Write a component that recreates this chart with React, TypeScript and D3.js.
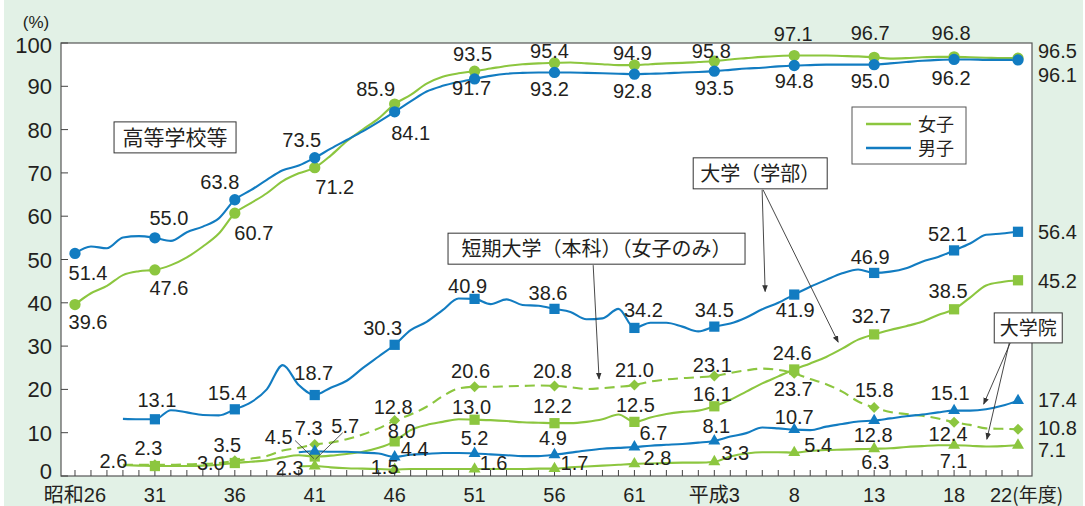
import React from 'react';
import * as d3 from 'd3';

// ---------- DATA ----------
const hsStart = 1951;
const hsFemale = [39.6, 42.2, 43.9, 46.4, 47.3, 47.6, 48.7, 50.5, 53.0, 56.0,
  60.7, 63.0, 65.3, 68.1, 69.9, 71.2, 74.0, 77.3, 80.0, 82.6,
  85.9, 88.0, 90.6, 92.2, 93.0, 93.5, 94.1, 94.7, 95.1, 95.3,
  95.4, 95.5, 95.3, 95.1, 94.9, 94.9, 95.1, 95.3, 95.4, 95.6,
  95.8, 96.2, 96.5, 96.8, 97.0, 97.1, 97.1, 97.1, 97.0, 96.9,
  96.7, 96.4, 96.5, 96.7, 96.8, 96.8, 96.7, 96.6, 96.5, 96.5];
const hsMale = [51.4, 53.0, 52.6, 55.1, 55.4, 55.0, 54.3, 56.3, 57.6, 59.5,
  63.8, 66.0, 68.4, 70.6, 71.7, 73.5, 75.6, 77.6, 79.6, 81.8,
  84.1, 86.5, 88.8, 90.1, 91.0, 91.7, 92.4, 92.9, 93.1, 93.2,
  93.2, 93.2, 93.1, 93.0, 92.9, 92.8, 92.9, 93.0, 93.2, 93.3,
  93.5, 93.8, 94.1, 94.3, 94.6, 94.8, 94.9, 95.0, 95.0, 95.0,
  95.0, 95.3, 95.6, 95.9, 96.1, 96.2, 96.2, 96.1, 96.1, 96.1];

const univStart = 1954;
const univMale = [13.2, 13.1, 13.1, 15.2, 14.7, 14.1, 14.0,
  15.4, 17.0, 20.0, 25.6, 21.0, 18.7, 20.4, 22.0, 24.9, 27.6,
  30.3, 33.7, 35.6, 38.3, 41.0, 40.9, 39.7, 40.8, 39.5, 39.3,
  38.6, 37.9, 36.2, 36.4, 38.6, 34.2, 35.4, 35.4, 34.5, 33.4,
  34.5, 35.2, 36.6, 38.5, 40.0, 41.9, 43.7, 45.3, 46.8, 47.7,
  46.9, 47.2, 48.0, 49.5, 50.6, 52.1, 53.7, 55.7, 56.0, 56.4];
const univFemale = [2.5, 2.4, 2.3, 2.3, 2.3, 2.4, 2.6,
  3.0, 3.3, 3.6, 4.3, 4.8, 4.5, 4.7, 5.1, 5.6, 6.5,
  8.0, 10.6, 11.8, 12.5, 13.1, 13.0, 12.9, 12.7, 12.4, 12.3,
  12.2, 12.2, 12.5, 13.1, 14.2, 12.5, 13.5, 14.3, 14.8, 15.1,
  16.1, 17.6, 19.5, 21.4, 23.0, 24.6, 26.0, 27.5, 29.4, 31.5,
  32.7, 33.7, 34.6, 35.6, 37.2, 38.5, 41.2, 44.0, 44.8, 45.2];
const juniorCollege = [2.6, 2.6, 2.6, 2.6, 2.7, 2.8, 3.0,
  3.5, 4.0, 4.6, 5.9, 6.5, 7.3, 7.7, 8.5, 9.6, 11.0,
  12.8, 14.2, 16.0, 18.4, 20.2, 20.6, 20.6, 20.7, 20.8, 20.9,
  20.8, 20.5, 20.1, 20.3, 20.6, 21.0, 21.8, 22.3, 22.6, 22.8,
  23.1, 23.8, 24.4, 24.8, 24.5, 23.7, 22.4, 21.2, 19.5, 17.2,
  15.8, 14.8, 14.3, 13.9, 13.3, 12.4, 11.8, 11.0, 10.9, 10.8];

const gradStart = 1965;
const gradMale = [5.5, 5.7, 5.6, 5.6, 5.4, 5.2,
  4.4, 4.9, 5.1, 5.3, 5.3, 5.2, 5.0, 4.8, 4.6, 4.6,
  4.9, 5.4, 5.9, 6.3, 6.5, 6.7, 7.0, 7.2, 7.4, 7.7,
  8.1, 9.1, 9.9, 11.2, 11.0, 10.7, 10.6, 11.4, 12.0, 12.6,
  12.8, 13.3, 13.8, 14.2, 14.7, 15.1, 15.1, 15.4, 16.2, 17.4];
const gradFemale = [2.2, 2.3, 2.0, 1.8, 1.7, 1.6,
  1.5, 1.6, 1.6, 1.6, 1.6, 1.6, 1.6, 1.6, 1.6, 1.7,
  1.7, 2.0, 2.2, 2.4, 2.6, 2.8, 2.9, 3.0, 3.1, 3.1,
  3.3, 4.5, 5.2, 5.5, 5.5, 5.4, 5.8, 6.0, 6.1, 6.2,
  6.3, 6.4, 6.7, 6.9, 7.1, 7.1, 7.0, 6.8, 6.9, 7.1];

const markerYears = [1951, 1956, 1961, 1966, 1971, 1976, 1981, 1986, 1991, 1996, 2001, 2006, 2010];
const xTickYears = [1951, 1956, 1961, 1966, 1971, 1976, 1981, 1986, 1991, 1996, 2001, 2006, 2010];
const xTickLabels = ['昭和26', '31', '36', '41', '46', '51', '56', '61', '平成3', '8', '13', '18', '22'];
const yTickValues = [0, 10, 20, 30, 40, 50, 60, 70, 80, 90, 100];

// ---------- STYLE / PLACEMENT ----------
const GREEN = '#8cc63f';
const BLUE = '#127cc1';
const TEXT = '#231f20';
const BG = '#e2f1e6';
const FONT = "'Liberation Sans', Arial, 'Noto Sans CJK JP', sans-serif";
const JFONT = "'Noto Sans CJK JP', 'Liberation Sans', sans-serif";

type Off = { [year: number]: [number, number, string?] };

const series = [
  { key: 'hsF', values: hsFemale, start: hsStart, color: GREEN, dash: null, shape: 'circle' },
  { key: 'hsM', values: hsMale, start: hsStart, color: BLUE, dash: null, shape: 'circle' },
  { key: 'jc', values: juniorCollege, start: univStart, color: GREEN, dash: '10,6', shape: 'diamond' },
  { key: 'uF', values: univFemale, start: univStart, color: GREEN, dash: null, shape: 'square' },
  { key: 'uM', values: univMale, start: univStart, color: BLUE, dash: null, shape: 'square' },
  { key: 'gF', values: gradFemale, start: gradStart, color: GREEN, dash: null, shape: 'triangle' },
  { key: 'gM', values: gradMale, start: gradStart, color: BLUE, dash: null, shape: 'triangle' },
];

const labelOffsets: { [k: string]: Off } = {
  hsF: { 1951: [13, 24], 1956: [14, 25], 1961: [19, 27], 1966: [20, 26], 1971: [-19, -8], 1976: [-2, -10],
    1981: [-5, -5], 1986: [-2, -5], 1991: [-3, -3], 1996: [-1, -15], 2001: [-4, -17], 2006: [-3, -17], 2010: [20, 0, 'start'] },
  hsM: { 1951: [13, 27], 1956: [14, -13], 1961: [-15, -11], 1966: [-13, -11], 1971: [16, 28], 1976: [-3, 16],
    1981: [-5, 24], 1986: [-2, 24], 1991: [0, 24], 1996: [0, 22.5], 2001: [-4, 23], 2006: [-3, 25.5], 2010: [20, 22, 'start'] },
  uM: { 1956: [2, -12.6], 1961: [-7.5, -9], 1966: [-1, -15], 1971: [-12, -10], 1976: [-7, -6], 1981: [-6.5, -9],
    1986: [9, -11], 1991: [0, -10], 1996: [1, 22], 2001: [-4, -9], 2006: [-6.5, -9], 2010: [20, 7, 'start'] },
  uF: { 1956: [-6.5, -11], 1961: [-24, 7], 1966: [-36, -13], 1971: [7, -3], 1976: [-3, -6], 1981: [-2, -10],
    1986: [1, -10], 1991: [-2, -5], 1996: [-2, -9.5], 2001: [-3, -11], 2006: [-6, -11], 2010: [20, 8, 'start'] },
  jc: { 1956: [-41.5, 3.6], 1961: [-7.5, -9], 1966: [-6, -9], 1971: [-1.5, -7], 1976: [-4, -8.5], 1981: [-2, -8],
    1986: [0, -8.5], 1991: [-2, -4], 1996: [-1, 23], 2001: [0, -11], 2006: [-6, 19], 2010: [20, 6, 'start'] },
  gM: { 1966: [30.5, -18], 1971: [20, -0.5], 1976: [0, -8.5], 1981: [-1.5, -10], 1986: [19, -7], 1991: [2, -7.5],
    1996: [0, -6], 2001: [-1, 21], 2006: [-4, -10.5], 2010: [20, 6, 'start'] },
  gF: { 1966: [-25, 9], 1971: [-10, 4], 1976: [19, 1], 1981: [20, 1], 1986: [23, 1], 1991: [21, -1.5],
    1996: [24, -1], 2001: [1, 20], 2006: [-0.5, 23], 2010: [20, 11.4, 'start'] },
};

// annotation boxes (centre in data coordinates, size in px)
const boxes = [
  { text: '高等学校等', year: 1957.26, value: 78.2, w: 122, h: 31, size: 21 },
  { text: '大学（学部）', year: 1993.87, value: 69.9, w: 134, h: 31, size: 20 },
  { text: '短期大学（本科）（女子のみ）', year: 1983.63, value: 52.5, w: 297, h: 31, size: 20 },
  { text: '大学院', year: 2010.64, value: 34.2, w: 68, h: 30, size: 19 },
];
// arrows in data coordinates [year, value] -> [year, value]
const arrows = [
  [[1983.42, 48.7], [1983.79, 22.4]],
  [[1993.99, 66.1], [1994.18, 42.6]],
  [[1994.05, 66.1], [1998.75, 30.9]],
  [[2009.51, 30.7], [2007.85, 16.6]],
  [[2009.45, 30.7], [2008.05, 8.5]],
];
const leaders = [
  [[1964.77, 8.2], [1965.95, 4.0]],
  [[1967.75, 10.0], [1966.05, 3.9]],
];

export default function App() {
  const x = d3.scaleLinear().domain([1950.125, 2010.875]).range([61, 1032]);
  const y = d3.scaleLinear().domain([0, 100]).range([476, 43]);
  const line = d3.line<[number, number]>().x(d => x(d[0])).y(d => y(d[1])).curve(d3.curveMonotoneX);

  const circle = d3.symbol(d3.symbolCircle, 100)() as string;
  const square = d3.symbol(d3.symbolSquare, 105)() as string;
  const diamond = d3.symbol(d3.symbolSquare, 60)() as string;
  const triangle = d3.symbol(d3.symbolTriangle, 62)() as string;

  const pts = (s: typeof series[0]) => s.values.map((v, i) => [s.start + i, v] as [number, number]);

  const yearRange = d3.range(1951, 2011);
  const yLabelShift = (v: number) => (v === 0 ? 3 : v === 100 ? 10 : 8);

  return (
    <svg width={1085} height={506} style={{ position: 'absolute', left: 0, top: 0, fontFamily: FONT }}>
      <defs>
        <marker id="ah" viewBox="0 0 10 10" refX="9" refY="5" markerWidth="7" markerHeight="7" orient="auto-start-reverse" markerUnits="userSpaceOnUse">
          <path d="M0,1 L10,5 L0,9 Z" fill="#333" />
        </marker>
      </defs>
      <rect x={0} y={0} width={1085} height={506} fill="#fff" />
      <rect x={4} y={0} width={1079} height={506} fill={BG} />
      <rect x={x(1950.125)} y={y(100)} width={x(2010.875) - x(1950.125)} height={y(0) - y(100)} fill="#fff" stroke="#555" strokeWidth={1.2} />

      {/* y ticks */}
      {yTickValues.map(v => (
        <g key={'y' + v}>
          <line x1={x(1950.125)} x2={x(1950.125) + 7} y1={y(v)} y2={y(v)} stroke="#444" strokeWidth={1} />
          <text x={52} y={y(v) + yLabelShift(v)} textAnchor="end" fontSize={22} fill={TEXT}>{v}</text>
        </g>
      ))}
      <text x={36} y={28} textAnchor="middle" fontSize={17} fill={TEXT}>(%)</text>

      {/* x minor ticks */}
      {yearRange.map(yr => (
        <line key={'t' + yr} x1={x(yr)} x2={x(yr)} y1={y(0)} y2={y(0) - 6} stroke="#444" strokeWidth={1} />
      ))}
      {xTickYears.map((yr, i) => (
        i === xTickYears.length - 1 ? (
          <text key={'xl' + yr} x={x(yr) - 28} y={502} textAnchor="start" fontSize={20} fill={TEXT}>
            {xTickLabels[i]}<tspan fontFamily={JFONT} fontSize={19}>(年度)</tspan>
          </text>
        ) : (
          <text key={'xl' + yr} x={x(yr)} y={502} textAnchor="middle" fontSize={20} fill={TEXT}>{xTickLabels[i]}</text>
        )
      ))}

      {/* lines */}
      {series.map(s => (
        <path key={'l' + s.key} d={line(pts(s)) as string} fill="none" stroke={s.color} strokeWidth={2.1}
          strokeDasharray={s.dash || undefined} />
      ))}

      {/* markers */}
      {series.map(s => markerYears.filter(yr => yr >= s.start && yr - s.start < s.values.length).map(yr => {
        const v = s.values[yr - s.start];
        const d = s.shape === 'circle' ? circle : s.shape === 'square' ? square : s.shape === 'diamond' ? diamond : triangle;
        const rot = s.shape === 'diamond' ? ' rotate(45)' : '';
        return <path key={'m' + s.key + yr} d={d} transform={`translate(${x(yr)},${y(v)})${rot}`} fill={s.color} />;
      }))}

      {/* leader lines */}
      {leaders.map((l, i) => (
        <line key={'ld' + i} x1={x(l[0][0])} y1={y(l[0][1])} x2={x(l[1][0])} y2={y(l[1][1])} stroke="#333" strokeWidth={0.8} />
      ))}

      {/* value labels */}
      {series.map(s => Object.keys(labelOffsets[s.key]).map(k => {
        const yr = +k;
        const [dx, dy, anchor] = labelOffsets[s.key][yr];
        const v = s.values[yr - s.start];
        return (
          <text key={'v' + s.key + yr} x={x(yr) + dx} y={y(v) + dy} textAnchor={anchor || 'middle'}
            fontSize={20} fill={TEXT}>{v.toFixed(1)}</text>
        );
      }))}

      {/* annotation boxes */}
      {boxes.map(b => (
        <g key={b.text}>
          <rect x={x(b.year) - b.w / 2} y={y(b.value) - b.h / 2} width={b.w} height={b.h} fill="#fff" stroke="#333" strokeWidth={1} />
          <text x={x(b.year)} y={y(b.value) + b.size * 0.36} textAnchor="middle" fontSize={b.size} fontFamily={JFONT} fill={TEXT}>{b.text}</text>
        </g>
      ))}
      {arrows.map((a, i) => (
        <line key={'a' + i} x1={x(a[0][0])} y1={y(a[0][1])} x2={x(a[1][0])} y2={y(a[1][1])} stroke="#333" strokeWidth={0.9} markerEnd="url(#ah)" />
      ))}

      {/* legend */}
      <g>
        <rect x={852} y={107} width={114} height={57} fill="#fff" stroke="#555" strokeWidth={1} />
        <line x1={866} x2={911} y1={124} y2={124} stroke={GREEN} strokeWidth={2.5} />
        <line x1={866} x2={911} y1={148} y2={148} stroke={BLUE} strokeWidth={2.5} />
        <text x={918} y={131} fontSize={18} fontFamily={JFONT} fill={TEXT}>女子</text>
        <text x={918} y={155} fontSize={18} fontFamily={JFONT} fill={TEXT}>男子</text>
      </g>
    </svg>
  );
}
